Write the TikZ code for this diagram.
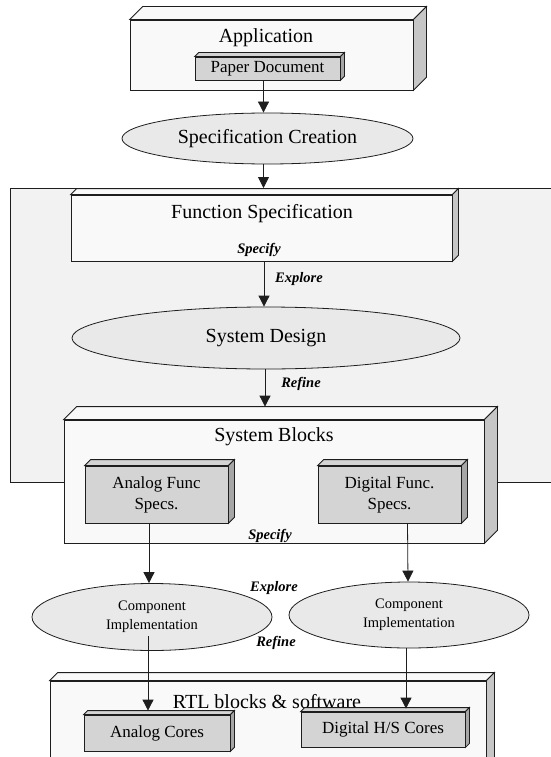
\documentclass[tikz,border=0pt]{standalone}
\usepackage{fontspec}
\setmainfont{Liberation Serif}
\usetikzlibrary{shapes.geometric,arrows.meta,calc}

\definecolor{panelgray}{HTML}{F2F2F2}
\definecolor{facelight}{HTML}{F9F9F9}
\definecolor{facegray}{HTML}{D4D4D4}
\definecolor{sidelight}{HTML}{C6C6C6}
\definecolor{sidedark}{HTML}{A6A6A6}
\definecolor{ovalfill}{HTML}{E9E9E9}
\definecolor{edge}{HTML}{1E1E1E}

\newcommand\bigtxt{\fontsize{20}{22}\selectfont}
\newcommand\midtxt{\fontsize{17}{21}\selectfont}
\newcommand\smalltxt{\fontsize{14.5}{19}\selectfont}
\newcommand\tagtxt{\fontsize{14.5}{16}\selectfont\bfseries\itshape}

% give a rectangular node a slanted top face and a right side face
\newcommand\extrude[4]{% node, depth, top colour, side colour
  \draw[solidedge,fill=#3] (#1.north west) -- ++(#2,-#2)
    -- ($(#1.north east)+(#2,-#2)$) -- (#1.north east) -- cycle;
  \draw[solidedge,fill=#4] (#1.north east) -- ++(#2,-#2)
    -- ($(#1.south east)+(#2,-#2)$) -- (#1.south east) -- cycle;
}

\begin{document}
\begin{tikzpicture}[x=1pt,y=-1pt,
  solidedge/.style={draw=edge,line width=0.8pt,line join=miter},
  box/.style={solidedge,rectangle,fill=facelight,inner sep=0pt},
  graybox/.style={box,fill=facegray},
  oval/.style={solidedge,ellipse,fill=ovalfill,inner sep=0pt,align=center},
  flow/.style={draw=edge,line width=0.8pt,-{Triangle[length=11pt,width=11pt]}},
  txt/.style={inner sep=0pt,align=center,text=black}]

\useasboundingbox (0,0) rectangle (551,757);

% shaded band behind the system-level steps
\node[fill=panelgray,inner sep=0pt,minimum width=560pt,minimum height=294pt,
      anchor=north west] (band) at (10,188) {};
\draw[solidedge] (band.north east) -- (band.north west) -- (band.south west) -- (band.south east);

% application
\node[box,minimum width=283pt,minimum height=70pt] (app) at (271.5,55) {};
\extrude{app}{13}{facelight}{sidelight}
\node[txt,font=\bigtxt] (appT) at (266,38) {Application};
\node[graybox,minimum width=145pt,minimum height=23pt,font=\midtxt] (paper) at (267.5,68.5) {Paper Document};
\extrude{paper}{4}{facegray}{sidedark}

% specification creation
\node[oval,minimum width=291pt,minimum height=51pt,font=\bigtxt] (spec) at (267.5,138.5) {Specification Creation};

% function specification
\node[box,minimum width=381pt,minimum height=66pt] (fs) at (261.5,228) {};
\extrude{fs}{6}{facelight}{sidelight}
\node[txt,font=\bigtxt] (fsT) at (262,214) {Function Specification};
\node[txt,font=\tagtxt] (fsTag) at (259,250) {Specify};

% system design
\node[oval,minimum width=388pt,minimum height=62pt,font=\bigtxt] (sd) at (266,338) {System Design};

% system blocks
\node[box,minimum width=420pt,minimum height=123pt] (sb) at (274,481.5) {};
\extrude{sb}{13}{facelight}{sidelight}
\node[txt,font=\bigtxt] (sbT) at (274,437) {System Blocks};
\node[txt,font=\tagtxt] (sbTag) at (270,536) {Specify};
\node[graybox,minimum width=143pt,minimum height=57pt,font=\midtxt,align=center] (afs) at (156.5,494.5) {Analog Func\\Specs.};
\extrude{afs}{6}{facegray}{sidedark}
\node[graybox,minimum width=143pt,minimum height=57pt,font=\midtxt,align=center] (dfs) at (389.5,494.5) {Digital Func.\\Specs.};
\extrude{dfs}{6}{facegray}{sidedark}

% component implementation
\node[oval,minimum width=240pt,minimum height=67pt,font=\smalltxt] (ci1) at (152,617) {Component\\Implementation};
\node[oval,minimum width=240pt,minimum height=66pt,font=\smalltxt] (ci2) at (409,615) {Component\\Implementation};

% RTL blocks and software
\node[box,minimum width=436pt,minimum height=89pt] (rtl) at (268,725.5) {};
\extrude{rtl}{8}{facelight}{sidelight}
\node[txt,font=\bigtxt] (rtlT) at (267,702) {RTL blocks \& software};
\node[graybox,minimum width=146pt,minimum height=36pt,font=\midtxt] (ac) at (157,733) {Analog Cores};
\extrude{ac}{4}{facegray}{sidedark}
\node[graybox,minimum width=164pt,minimum height=35pt,font=\midtxt] (dc) at (383,729.5) {Digital H/S Cores};
\extrude{dc}{4}{facegray}{sidedark}

% flow labels
\node[txt,font=\tagtxt] (exp1) at (299,279) {Explore};
\node[txt,font=\tagtxt] (ref1) at (301,384) {Refine};
\node[txt,font=\tagtxt] (exp2) at (274,588) {Explore};
\node[txt,font=\tagtxt] (ref2) at (276,643) {Refine};

% connectors
\draw[flow] ([xshift=-4pt]paper.south) -- ([xshift=-4pt]spec.north);
\draw[flow] ([xshift=-4pt]spec.south) -- ([xshift=-4pt]spec.south |- band.north);
\draw[flow] ([xshift=2.5pt]fs.south) -- ([xshift=-2pt]sd.north);
\draw[flow] ([xshift=-1pt]sd.south) -- ($(sb.north)+(-9,-13)$);
\draw[flow] ([xshift=-7.5pt]afs.south) -- ([xshift=-3pt]ci1.north);
\draw[flow] ([xshift=18pt]dfs.south) -- ([xshift=-1pt]ci2.north);
\draw[flow] ([xshift=-4pt,yshift=-19pt]ci1.center) -- ($(ac.north)+(-9,-4)$);
\draw[flow] ([xshift=-3pt]ci2.south) -- ($(dc.north)+(23,-3)$);

\end{tikzpicture}
\end{document}
